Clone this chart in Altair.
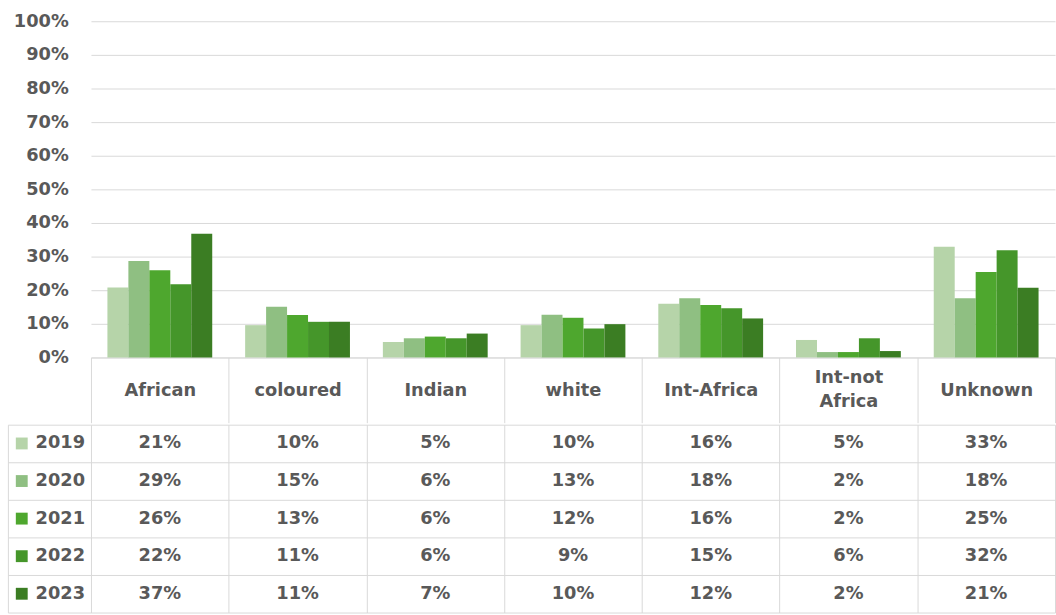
import altair as alt
import pandas as pd

categories = ["African", "coloured", "Indian", "white", "Int-Africa", "Int-not Africa", "Unknown"]
years = ["2019", "2020", "2021", "2022", "2023"]
colors = ["#b6d4a9", "#8fbf82", "#4ea72e", "#45962a", "#3b7d23"]

# percentages per category (order as in `categories`)
v2019 = [20.8, 9.6, 4.6, 9.6, 16.0, 5.2, 32.9]
v2020 = [28.7, 15.1, 5.7, 12.7, 17.6, 1.6, 17.6]
v2021 = [25.9, 12.6, 6.2, 11.8, 15.6, 1.6, 25.4]
v2022 = [21.8, 10.6, 5.7, 8.6, 14.6, 5.7, 31.9]
v2023 = [36.8, 10.6, 7.1, 9.9, 11.6, 1.9, 20.7]

series = [v2019, v2020, v2021, v2022, v2023]
rows = []
for yr, vals in zip(years, series):
    for cat, v in zip(categories, vals):
        rows.append({"category": cat, "year": yr, "value": v / 100.0})
df = pd.DataFrame(rows)

FONT = "DejaVu Sans"
TXT = "#595959"
GRID = "#d9d9d9"
FS = 18

color_scale = alt.Scale(domain=years, range=colors)

bars = alt.Chart(df).mark_bar().encode(
    x=alt.X(
        "category:N", sort=categories,
        scale=alt.Scale(paddingInner=0, paddingOuter=0),
        axis=alt.Axis(
            title=None, orient="bottom", labelAngle=0,
            domainColor=GRID, tickColor=GRID, tickBand="extent", tickSize=66,
            labelPadding={"condition": {"test": "datum.value == 'Int-not Africa'", "value": -46},
                          "value": -33},
            labelBaseline="middle", labelFont=FONT, labelFontSize=FS,
            labelFontWeight="bold", labelColor=TXT, labelLineHeight=25,
            labelExpr="datum.label == 'Int-not Africa' ? ['Int-not', 'Africa'] : datum.label",
        ),
    ),
    xOffset=alt.XOffset("year:N", sort=years, scale=alt.Scale(paddingInner=0, paddingOuter=0.785)),
    y=alt.Y(
        "value:Q",
        scale=alt.Scale(domain=[0, 1], nice=False),
        axis=alt.Axis(
            title=None, format=".0%", tickCount=10, grid=True, gridColor=GRID,
            domain=False, ticks=False, labelPadding=23, labelFont=FONT,
            labelFontSize=FS, labelFontWeight="bold", labelColor=TXT,
        ),
    ),
    color=alt.Color("year:N", scale=color_scale, legend=None),
).properties(width=975, height=340)

cells = alt.Chart(df).mark_text(
    font=FONT, fontSize=FS, fontWeight="bold", color=TXT
).encode(
    x=alt.X(
        "category:N", sort=categories,
        scale=alt.Scale(paddingInner=0, paddingOuter=0),
        axis=alt.Axis(title=None, orient="top", labels=False, ticks=False, domain=False,
                      grid=True, gridColor=GRID, tickBand="extent"),
    ),
    y=alt.Y(
        "year:N", sort=years,
        scale=alt.Scale(paddingInner=0, paddingOuter=0),
        axis=alt.Axis(title=None, labels=False, domain=False, ticks=True, tickSize=84,
                      tickColor=GRID, tickBand="extent", grid=True, gridColor=GRID),
    ),
    text=alt.Text("value:Q", format=".0%"),
)

keys = alt.Chart(df).mark_square(opacity=0, size=144).encode(
    y=alt.Y(
        "year:N", sort=years,
        scale=alt.Scale(paddingInner=0, paddingOuter=0),
        axis=alt.Axis(title=None, orient="left", offset=84, labels=False, ticks=False,
                      grid=False, domain=True, domainColor=GRID),
    ),
    color=alt.Color(
        "year:N", scale=color_scale,
        legend=alt.Legend(
            orient="none", legendX=-79, legendY=10, title=None, symbolType="square",
            symbolSize=144, symbolOpacity=1, symbolStrokeWidth=0, labelFont=FONT,
            labelFontSize=FS, labelFontWeight="bold", labelColor=TXT, labelOffset=5,
            rowPadding=20, padding=0,
        ),
    ),
)

table = alt.layer(cells, keys).resolve_scale(y="independent").properties(width=975, height=190)

chart = alt.vconcat(bars, table, spacing=0).resolve_scale(
    x="independent", color="independent"
).resolve_legend(color="independent").configure_view(stroke=None).properties(
    padding={"left": 7, "top": 9, "right": 0, "bottom": 0}
)

chart.save("out.html", embed_options={"renderer": "svg", "actions": False})
